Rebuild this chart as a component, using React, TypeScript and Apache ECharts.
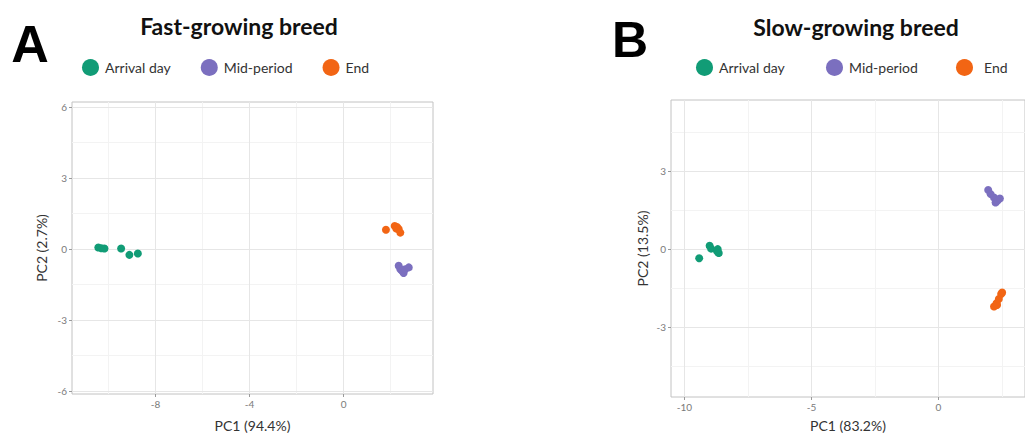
import React, { useEffect, useRef } from "react";
import * as echarts from "echarts";

const groups = ["Arrival day", "Mid-period", "End"];
const groupColors = ["#119c76", "#7b6fbf", "#f26514"];

// Fast-growing breed (PC1, PC2)
const fastArrival = [[-10.43, 0.07], [-10.3, 0.04], [-10.17, 0.03], [-9.46, 0.03], [-9.11, -0.24], [-8.75, -0.18]];
const fastMid = [[2.34, -0.7], [2.41, -0.85], [2.49, -0.92], [2.55, -1.01], [2.62, -0.85], [2.77, -0.77]];
const fastEnd = [[1.8, 0.82], [2.17, 0.98], [2.24, 0.87], [2.27, 0.94], [2.34, 0.85], [2.41, 0.7]];

// Slow-growing breed (PC1, PC2)
const slowArrival = [[-9.42, -0.35], [-9.01, 0.13], [-8.95, 0.02], [-8.72, -0.08], [-8.69, 0.0], [-8.65, -0.15]];
const slowMid = [[1.96, 2.28], [2.06, 2.12], [2.19, 1.99], [2.25, 1.8], [2.32, 1.86], [2.42, 1.95]];
const slowEnd = [[2.19, -2.21], [2.29, -2.08], [2.31, -2.15], [2.38, -1.92], [2.47, -1.73], [2.51, -1.67]];

// Tick values
const fastXTicks = [-8, -4, 0];
const fastXMinor = [-10, -6, -2, 2];
const fastYTicks = [-6, -3, 0, 3, 6];
const fastYMinor = [-4.5, -1.5, 1.5, 4.5];
const slowXTicks = [-10, -5, 0];
const slowXMinor = [-7.5, -2.5, 2.5];
const slowYTicks = [-3, 0, 3];
const slowYMinor = [-4.5, -1.5, 1.5, 4.5];

const FONT = "Lato, 'Open Sans', sans-serif";

function majorAxis(gridIndex: number, min: number, max: number, ticks: number[], name: string, nameGap: number, isY: boolean) {
  return {
    type: "value",
    gridIndex,
    min,
    max,
    position: isY ? "left" : "bottom",
    name,
    nameLocation: "middle",
    nameGap,
    nameRotate: isY ? 90 : 0,
    nameTextStyle: { fontFamily: FONT, fontSize: 14, color: "#333" },
    axisLine: { show: false, onZero: false },
    axisTick: { show: true, length: 3, customValues: ticks, lineStyle: { color: "#9a9a9a", width: 1 } },
    axisLabel: { show: true, customValues: ticks, fontFamily: FONT, fontSize: 10, color: "#7a7a7a", margin: 5 },
    splitLine: { show: true, lineStyle: { color: "#e6e6e6", width: 1 } },
    z: 2,
  };
}

function minorAxis(gridIndex: number, min: number, max: number, ticks: number[], isY: boolean) {
  return {
    type: "value",
    gridIndex,
    min,
    max,
    position: isY ? "right" : "top",
    axisLine: { show: false, onZero: false },
    axisTick: { show: false, customValues: ticks },
    axisLabel: { show: false, customValues: ticks },
    splitLine: { show: true, lineStyle: { color: "#f3f3f3", width: 1 } },
    z: 1,
  };
}

function scatter(name: string, data: number[][], idx: number, axisIdx: number) {
  return {
    type: "scatter",
    name,
    data,
    xAxisIndex: axisIdx,
    yAxisIndex: axisIdx,
    symbol: "circle",
    symbolSize: 8,
    itemStyle: { color: groupColors[idx], opacity: 1 },
    z: 5,
  };
}

export default function App() {
  const ref = useRef<HTMLDivElement>(null);
  useEffect(() => {
    if (!ref.current) return;
    const chart = echarts.init(ref.current, undefined, { renderer: "svg" });
    const fx: [number, number] = [-11.55, 3.8];
    const fy: [number, number] = [-6.12, 6.22];
    const sx: [number, number] = [-10.53, 3.41];
    const sy: [number, number] = [-5.7, 5.75];
    const legendCommon = {
      icon: "circle",
      itemWidth: 17,
      itemHeight: 17,
      itemGap: 30,
      top: 54,
      textStyle: { fontFamily: FONT, fontSize: 14, color: "#333", padding: [0, 0, 0, 1] },
      selectedMode: false,
    };
    chart.setOption({
      animation: false,
      backgroundColor: "#ffffff",
      grid: [
        { left: 72, top: 102, width: 361, height: 293, show: true, borderColor: "#c2c2c2", borderWidth: 1, backgroundColor: "transparent" },
        { left: 671, top: 100, width: 361, height: 298, show: true, borderColor: "#c2c2c2", borderWidth: 1, backgroundColor: "transparent" },
      ],
      xAxis: [
        majorAxis(0, fx[0], fx[1], fastXTicks, "PC1 (94.4%)", 24, false),
        minorAxis(0, fx[0], fx[1], fastXMinor, false),
        majorAxis(1, sx[0], sx[1], slowXTicks, "PC1 (83.2%)", 21, false),
        minorAxis(1, sx[0], sx[1], slowXMinor, false),
      ],
      yAxis: [
        majorAxis(0, fy[0], fy[1], fastYTicks, "PC2 (2.7%)", 24, true),
        minorAxis(0, fy[0], fy[1], fastYMinor, true),
        majorAxis(1, sy[0], sy[1], slowYTicks, "PC2 (13.5%)", 22, true),
        minorAxis(1, sy[0], sy[1], slowYMinor, true),
      ],
      legend: [
        { ...legendCommon, left: 77, data: groups },
        { ...legendCommon, left: 691, data: [groups[0]] },
        { ...legendCommon, left: 821, data: [groups[1]] },
        { ...legendCommon, left: 951, data: [groups[2]], textStyle: { ...legendCommon.textStyle, padding: [0, 0, 0, 6] } },
      ],
      graphic: [
        { type: "text", x: 30, y: 44, style: { text: "A", font: "bold 52px 'Liberation Sans', Arial, sans-serif", fill: "#000", textAlign: "center", textVerticalAlign: "middle" } },
        { type: "text", x: 630, y: 40, style: { text: "B", font: "bold 50px 'Liberation Sans', Arial, sans-serif", fill: "#000", textAlign: "center", textVerticalAlign: "middle" } },
        { type: "text", x: 239, y: 26, style: { text: "Fast-growing breed", font: "bold 23px Lato, 'Open Sans', sans-serif", fill: "#111", textAlign: "center", textVerticalAlign: "middle" } },
        { type: "text", x: 856, y: 27, style: { text: "Slow-growing breed", font: "bold 23px Lato, 'Open Sans', sans-serif", fill: "#111", textAlign: "center", textVerticalAlign: "middle" } },
      ],
      series: [
        scatter(groups[0], fastArrival, 0, 0),
        scatter(groups[1], fastMid, 1, 0),
        scatter(groups[2], fastEnd, 2, 0),
        scatter(groups[0], slowArrival, 0, 2),
        scatter(groups[1], slowMid, 1, 2),
        scatter(groups[2], slowEnd, 2, 2),
      ],
    });
    return () => chart.dispose();
  }, []);
  return <div ref={ref} style={{ position: "absolute", left: 0, top: 0, width: 1025, height: 437 }} />;
}
